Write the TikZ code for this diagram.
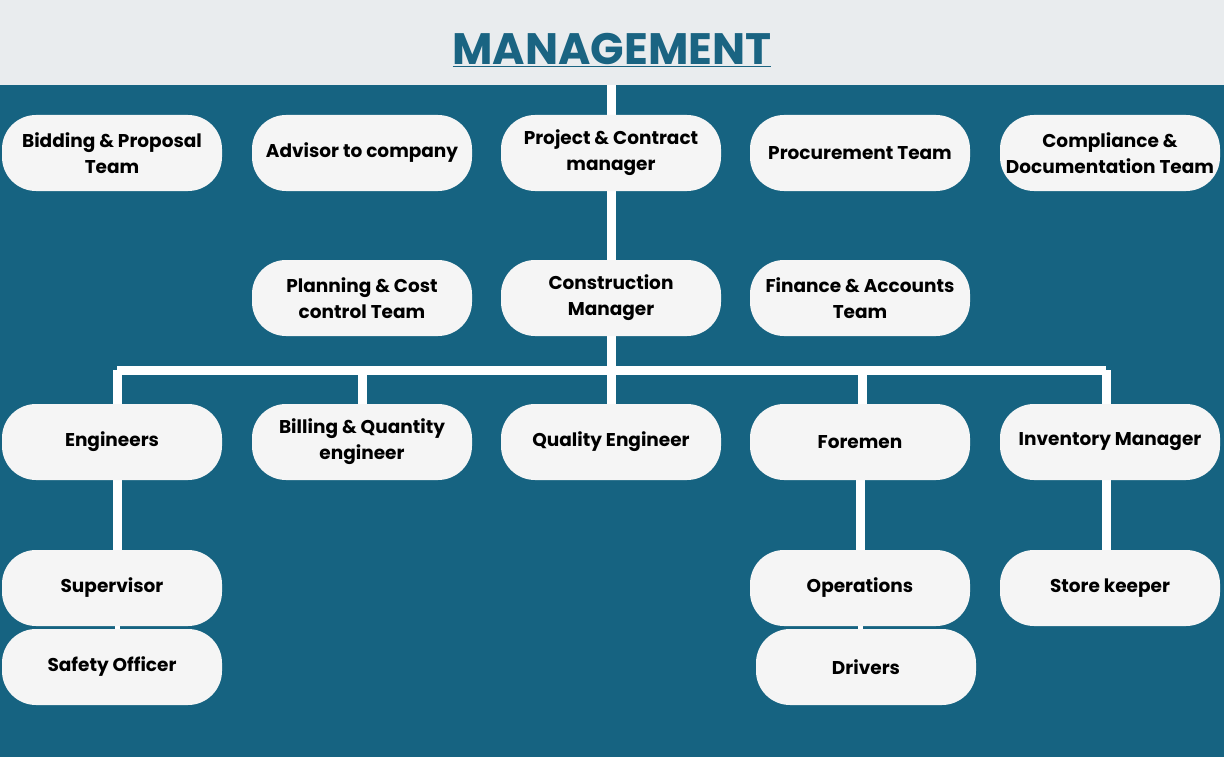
\documentclass[tikz,border=0pt]{standalone}
\usepackage{fontspec}
\setmainfont{Poppins}
\usetikzlibrary{positioning}
\definecolor{bgblue}{RGB}{22,99,129}
\definecolor{band}{RGB}{233,236,238}
\definecolor{titleblue}{RGB}{26,100,130}
\definecolor{boxfill}{RGB}{245,245,245}
\begin{document}
\begin{tikzpicture}[x=1pt,y=-1pt]

      \tikzset{unit/.style={draw=none, fill=boxfill, rounded corners=34pt, minimum width=220pt, minimum height=76pt, align=center, font=\fontsize{18.5}{26}\selectfont\bfseries, text=black, inner sep=2pt},
               link/.style={draw=white, line width=9pt}}
%% Background
      	\fill[bgblue] (0,0) rectangle (1224,757);
      	\fill[band] (0,0) rectangle (1224,85);
      	\node[text=titleblue, font=\fontsize{44}{48}\selectfont\bfseries] (title) at (612,50) {\underline{MANAGEMENT}};
      	\coordinate (top) at (611,85);
%% Links
      	\coordinate (bus) at (611,370);
		\path[link] (top) -- (611,260);
		\path[link] (611,330) -- (bus);
		\path[link] (117,370) -- (1106,370);
		\foreach \x in {117, 362, 611, 862, 1106}
			\path[link] (\x,370) -- (\x,410);
		\path[link] (117,470) -- (117,560);
		\path[link] (860,470) -- (860,560);
		\path[link] (1106,470) -- (1106,560);
		\path[link, line width=5pt] (117,620) -- (117,640);
		\path[link, line width=5pt] (860,620) -- (860,640);
%% Units
      	\node[unit] (bid) at (112,153) {Bidding \& Proposal\\Team};
      	\node[unit] (adv) at (362,153) {Advisor to company};
      	\node[unit] (pcm) at (611,153) {Project \& Contract\\manager};
      	\node[unit] (proc) at (860,153) {Procurement Team};
      	\node[unit] (comp) at (1110,153) {Compliance \&\\Documentation Team};
      	\node[unit] (plan) at (362,298) {Planning \& Cost\\control Team};
      	\node[unit] (cm) at (611,298) {Construction\\Manager};
      	\node[unit] (fin) at (860,298) {Finance \& Accounts\\Team};
      	\node[unit] (eng) at (112,442) {Engineers};
      	\node[unit] (bill) at (362,442) {Billing \& Quantity\\engineer};
      	\node[unit] (qe) at (611,442) {Quality Engineer};
      	\node[unit] (fore) at (860,442) {Foremen};
      	\node[unit] (inv) at (1110,442) {Inventory Manager};
      	\node[unit] (sup) at (112,588) {Supervisor};
      	\node[unit] (safe) at (112,667) {Safety Officer};
      	\node[unit] (ops) at (860,588) {Operations};
      	\node[unit] (drv) at (866,667) {Drivers};
      	\node[unit] (store) at (1110,588) {Store keeper};

	\end{tikzpicture}
\end{document}
